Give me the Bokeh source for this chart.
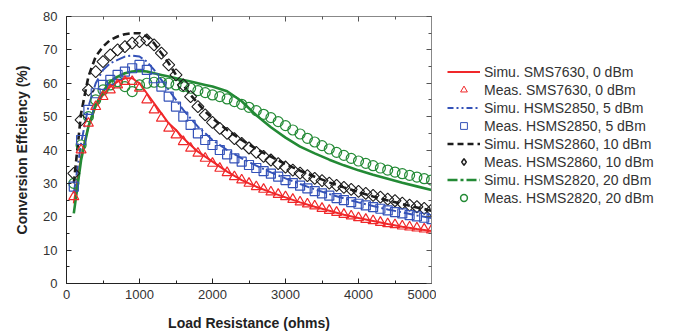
import math
from bokeh.plotting import figure
from bokeh.layouts import row
from bokeh.models import LinearAxis, Legend, LegendItem, FixedTicker
from bokeh.embed import file_html
from bokeh.resources import INLINE

# ---------------- data ----------------
x_meas = [100, 200, 300, 400, 500, 600, 700, 800, 900, 1000,
          1100, 1200, 1300, 1400, 1500, 1600, 1700, 1800, 1900, 2000,
          2100, 2200, 2300, 2400, 2500, 2600, 2700, 2800, 2900, 3000,
          3100, 3200, 3300, 3400, 3500, 3600, 3700, 3800, 3900, 4000,
          4100, 4200, 4300, 4400, 4500, 4600, 4700, 4800, 4900, 5000]

meas_sms7630 = [26, 40, 48, 53, 56, 58, 59.5, 60.5, 60.5, 58.5,
                55, 52, 49.5, 46.5, 44.5, 42.5, 40.5, 39, 37.5, 36,
                34.5, 33.2, 32, 31, 30, 29, 28.2, 27.4, 26.7, 26,
                25.2, 24.4, 23.8, 23.2, 22.5, 21.9, 21.3, 20.7, 20.2, 19.7,
                19.2, 18.8, 18.3, 17.9, 17.6, 17.2, 16.9, 16.6, 16.3, 16]

meas_hsms2850 = [29, 43, 52, 57, 59.5, 61, 62.5, 63.5, 64.5, 65.5,
                 64, 61.5, 59, 56, 53, 50, 47.5, 45, 43, 41.5,
                 40, 38.7, 37.5, 36.5, 35.5, 34.6, 33.7, 32.9, 32, 31,
                 30.1, 29.3, 28.5, 27.7, 27, 26.3, 25.6, 25, 24.4, 23.9,
                 23.4, 22.9, 22.4, 21.9, 21.4, 21, 20.5, 20.1, 19.7, 19.3]

meas_hsms2860 = [33, 49, 58, 63.5, 66.5, 68.5, 70, 71, 72, 72.5,
                 73, 71.5, 69, 65.5, 62.5, 59.5, 56, 53, 50.5, 48.3,
                 46.5, 45, 43.4, 42, 40.6, 39.3, 38.1, 37, 35.9, 34.9,
                 34, 33.1, 32.3, 31.5, 30.8, 30.1, 29.4, 28.8, 28.2, 27.6,
                 27, 26.4, 25.9, 25.3, 24.8, 24.1, 23.5, 23, 22.5, 22]

meas_hsms2820 = [30, 41.5, 50, 55, 58, 59.5, 60.5, 59, 57.5, 59.5,
                 60, 60.3, 60.3, 60, 59.5, 59, 58.5, 57.8, 57.2, 56.5,
                 56, 55.3, 54.5, 53.7, 52.8, 51.8, 50.7, 49.7, 48.5, 47.3,
                 46, 44.8, 43.5, 42.4, 41.3, 40.3, 39.3, 38.4, 37.5, 36.7,
                 36, 35.3, 34.6, 34, 33.4, 32.9, 32.4, 31.9, 31.4, 31]

x_sim = [100, 200, 300, 400, 500, 600, 700, 800, 900, 1000,
         1100, 1200, 1300, 1400, 1500, 1600, 1700, 1800, 1900, 2000,
         2200, 2400, 2600, 2800, 3000, 3200, 3400, 3600, 3800, 4000,
         4200, 4400, 4600, 4800, 5000]

sim_sms7630 = [24, 38, 47, 53, 56.5, 59, 60.5, 61.5, 61.5, 60,
               57, 54, 51, 48, 46, 43.5, 41.5, 39.5, 38, 36.5,
               33.5, 31, 29, 27.3, 25.8, 24.3, 23, 21.8, 20.6, 19.6,
               18.7, 17.8, 17, 16.3, 15.7]

sim_hsms2850 = [27, 42, 53, 60, 64, 66, 67, 68, 68.3, 68,
                66.5, 64, 61, 58, 55, 52, 49.5, 47, 45, 43,
                40, 37.5, 35.3, 33.3, 31.5, 29.8, 28.2, 26.8, 25.5, 24.3,
                23.2, 22.2, 21.3, 20.4, 19.6]

sim_hsms2860 = [30, 51, 62, 68, 71, 73, 74, 74.7, 75, 75,
                74, 72, 69, 66, 62.5, 59.5, 56.5, 54, 51.5, 49.5,
                46, 43, 40.3, 38, 35.8, 33.8, 32, 30.3, 28.8, 27.4,
                26.1, 24.9, 23.8, 22.8, 21.8]

sim_hsms2820 = [21, 37, 47, 53.5, 57.5, 60.5, 62, 63, 63.5, 63.7,
                63.5, 63, 62.5, 62, 61.5, 61, 60.5, 60, 59.5, 59,
                57.6, 54.6, 50.4, 46.8, 43.7, 41, 39, 37.1, 35.4, 33.9,
                32.6, 31.4, 30.2, 29.1, 28]

labels = ["Simu. SMS7630, 0 dBm", "Meas. SMS7630, 0 dBm",
          "Simu. HSMS2850, 5 dBm", "Meas. HSMS2850, 5 dBm",
          "Simu. HSMS2860, 10 dBm", "Meas. HSMS2860, 10 dBm",
          "Simu. HSMS2820, 20 dBm", "Meas. HSMS2820, 20 dBm"]

x_ticks = [0, 1000, 2000, 3000, 4000, 5000]
x_minor = [500, 1500, 2500, 3500, 4500]
y_ticks = [0, 10, 20, 30, 40, 50, 60, 70, 80]
y_minor = [5, 15, 25, 35, 45, 55, 65, 75]

# ---------------- styles ----------------
RED = "#f0282a"
BLUE = "#3452b8"
BLACK = "#1c1c1c"
GREEN = "#238a35"
FONT = "Liberation Sans"
TXT = "#333333"

p = figure(width=436, height=333, x_range=(0, 5000), y_range=(0, 80),
           output_backend="svg", toolbar_location=None,
           min_border_left=66, min_border_top=16, min_border_bottom=49,
           min_border_right=5)
p.grid.visible = False
p.outline_line_color = "#888888"
p.background_fill_color = "white"
p.border_fill_color = "white"

p.xaxis[0].ticker = FixedTicker(ticks=x_ticks, minor_ticks=x_minor)
p.yaxis[0].ticker = FixedTicker(ticks=y_ticks, minor_ticks=y_minor)
for ax in (p.xaxis[0], p.yaxis[0]):
    ax.major_tick_in = 5
    ax.major_tick_out = 0
    ax.minor_tick_in = 3
    ax.minor_tick_out = 0
    ax.axis_line_color = "#222222"
    ax.major_tick_line_color = "#222222"
    ax.minor_tick_line_color = "#222222"
    ax.major_label_text_font = FONT
    ax.major_label_text_font_size = "13px"
    ax.major_label_text_color = TXT
    ax.axis_label_text_font = FONT
    ax.axis_label_text_font_size = "14px"
    ax.axis_label_text_font_style = "bold"
    ax.axis_label_text_color = "#222222"

p.xaxis.axis_label = "Load Resistance (ohms)"
p.yaxis.axis_label = "Conversion Effciency (%)"
p.xaxis.major_label_standoff = 6
p.xaxis.axis_label_standoff = 13
p.yaxis.major_label_standoff = 9
p.yaxis.axis_label_standoff = 10

# top / right mirror axes with inward ticks, no labels
top = LinearAxis(ticker=FixedTicker(ticks=x_ticks, minor_ticks=x_minor))
right = LinearAxis(ticker=FixedTicker(ticks=y_ticks, minor_ticks=y_minor))
for ax in (top, right):
    ax.major_tick_in = 5
    ax.major_tick_out = 0
    ax.minor_tick_in = 3
    ax.minor_tick_out = 0
    ax.major_label_text_alpha = 0
    ax.major_label_text_font_size = "1px"
    ax.major_label_standoff = 0
    ax.axis_line_color = "#888888"
    ax.major_tick_line_color = "#555555"
    ax.minor_tick_line_color = "#555555"
p.add_layout(top, "above")
p.add_layout(right, "right")

# ---------------- curves ----------------
p.line(x_sim, sim_sms7630, line_color=RED, line_width=2)
p.line(x_sim, sim_hsms2850, line_color=BLUE, line_width=2, line_dash="10 3 2 3")
p.line(x_sim, sim_hsms2860, line_color=BLACK, line_width=2.6, line_dash="7 4")
p.line(x_sim, sim_hsms2820, line_color=GREEN, line_width=2.6)

p.scatter(x_meas, meas_hsms2820, marker="circle", size=10, line_color=GREEN,
          fill_color=None, line_width=1.2)
p.scatter(x_meas, meas_hsms2860, marker="square", size=8.5, angle=math.pi / 4,
          line_color=BLACK, fill_color=None, line_width=1.1)
p.scatter(x_meas, meas_hsms2850, marker="square", size=9, line_color=BLUE,
          fill_color=None, line_width=1.2)
p.scatter(x_meas, meas_sms7630, marker="triangle", size=10, line_color=RED,
          fill_color=None, line_width=1.2)

# ---------------- legend panel (separate figure) ----------------
q = figure(width=240, height=333, x_range=(0, 1), y_range=(0, 1),
           output_backend="svg", toolbar_location=None,
           min_border=0)
q.axis.visible = False
q.grid.visible = False
q.outline_line_color = None
q.border_fill_color = "white"
q.background_fill_color = "white"

# sample renderers: their data lie outside the visible range, only the legend shows them
hx, hy = [-5, -4], [-5, -4]
lg = []
lg.append(q.line(hx, hy, line_color=RED, line_width=2))
lg.append(q.scatter(hx, hy, marker="triangle", size=8, line_color=RED, fill_color=None))
lg.append(q.line(hx, hy, line_color=BLUE, line_width=2, line_dash="6 3 2 3 2 3"))
lg.append(q.scatter(hx, hy, marker="square", size=7, line_color=BLUE, fill_color=None))
lg.append(q.line(hx, hy, line_color=BLACK, line_width=2.5, line_dash="6 4"))
lg.append(q.scatter(hx, hy, marker="diamond", size=11,
                    line_color=BLACK, fill_color=None, line_width=1.5))
lg.append(q.line(hx, hy, line_color=GREEN, line_width=2.5, line_dash="10 3 3 3"))
lg.append(q.scatter(hx, hy, marker="circle", size=7, line_color=GREEN,
                    fill_color=None, line_width=1.5))

legend = Legend(items=[LegendItem(label=l, renderers=[r]) for l, r in zip(labels, lg)],
                location=(11, 77), orientation="vertical",
                glyph_width=33, glyph_height=17, label_height=17, spacing=1,
                label_standoff=4, padding=0, margin=0,
                border_line_color=None, background_fill_alpha=0,
                label_text_font=FONT, label_text_font_size="14px",
                label_text_color=TXT)
q.add_layout(legend, "center")

layout = row(p, q, spacing=0)
open("out.html", "w").write(file_html(layout, INLINE))
